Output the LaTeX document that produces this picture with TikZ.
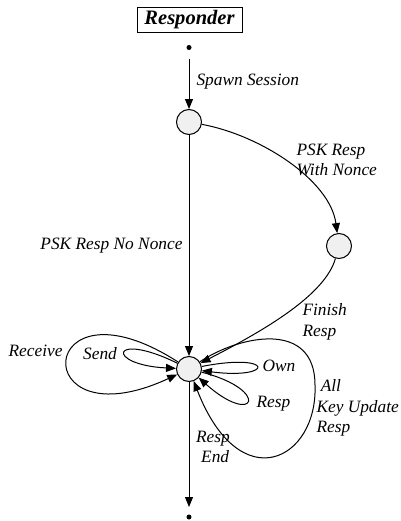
\documentclass[tikz,border=0pt]{standalone}
\usepackage{fontspec}
\setmainfont{Liberation Serif}
\usetikzlibrary{arrows.meta}

\tikzset{every picture/.style={line width=0.75pt}}
\tikzset{
  state/.style={circle,draw,fill={rgb, 255:red, 240; green, 240; blue, 240 },minimum size=18.75pt,inner sep=0pt},
  termdot/.style={circle,fill=black,minimum size=3.75pt,inner sep=0pt},
  lbl/.style={font=\fontsize{13}{15.5}\selectfont\itshape,inner sep=0pt},
  arr/.style={-{Triangle[length=7.5pt,width=6pt]}},
}

\begin{document}
\begin{tikzpicture}[x=0.75pt,y=0.75pt,yscale=-1,xscale=1]
\useasboundingbox (0,0) rectangle (400,521);

%Shape: Rectangle
\draw (189.5,19.5) node[draw,minimum width=78.75pt,minimum height=18.75pt,inner sep=0pt,font=\fontsize{15.4}{18}\selectfont\bfseries\itshape] (resp) {Responder};
%Shape: Circle
\draw (189,47.5) node[termdot] (sdot) {};
\draw (189,517) node[termdot] (edot) {};
%Shape: Circle
\draw (189,122) node[state] (c1) {};
\draw (339,246) node[state] (c2) {};
\draw (189,369) node[state] (c3) {};

%Shape: Curve
\draw[arr,shorten <=6pt] (sdot) -- (c1);
\draw[arr] (c1) -- (c3);
\draw[arr] (c1) .. controls (260,135) and (330,180) .. (c2);
\draw[arr] (c2) .. controls (325,295) and (265,330) .. (c3);
\draw[arr,shorten >=5.25pt] (c3) -- (edot);
%Shape: Curve (loops)
\draw[arr] (c3) .. controls (35,270) and (25,445) .. (c3);
\draw[arr] (c3) .. controls (110,330) and (105,365) .. (c3);
\draw[arr] (c3) .. controls (275,352) and (275,380) .. (c3);
\draw[arr] (c3) .. controls (272,390) and (255,428) .. (c3);
\draw[arr] (c3) .. controls (240,335) and (315,320) .. (315,385) .. controls (318,460) and (240,500) .. (c3);

% Text Node
\draw (196,82) node[lbl,anchor=west] (lspawn) {Spawn Session};
% Text Node
\draw (296,160) node[lbl,anchor=west,align=left] (lwith) {PSK Resp\\ With Nonce};
% Text Node
\draw (183,246) node[lbl,anchor=east] (lno) {PSK Resp No Nonce};
% Text Node
\draw (302,322) node[lbl,anchor=west,align=left] (lfin) {Finish\\Resp};
% Text Node
\draw (63,351) node[lbl,anchor=east] (lrecv) {Receive};
% Text Node
\draw (100,354) node[lbl] (lsend) {Send};
% Text Node
\draw (262,366) node[lbl,anchor=west] (lown) {Own};
% Text Node
\draw (256,404) node[lbl,anchor=west] (lresp) {Resp};
% Text Node
\draw (316,408) node[lbl,anchor=west,align=left] (lkey) {\ All\\Key Update\\Resp};
% Text Node
\draw (213,447) node[lbl,align=center] (lend) {Resp\\\ End};

\end{tikzpicture}
\end{document}
